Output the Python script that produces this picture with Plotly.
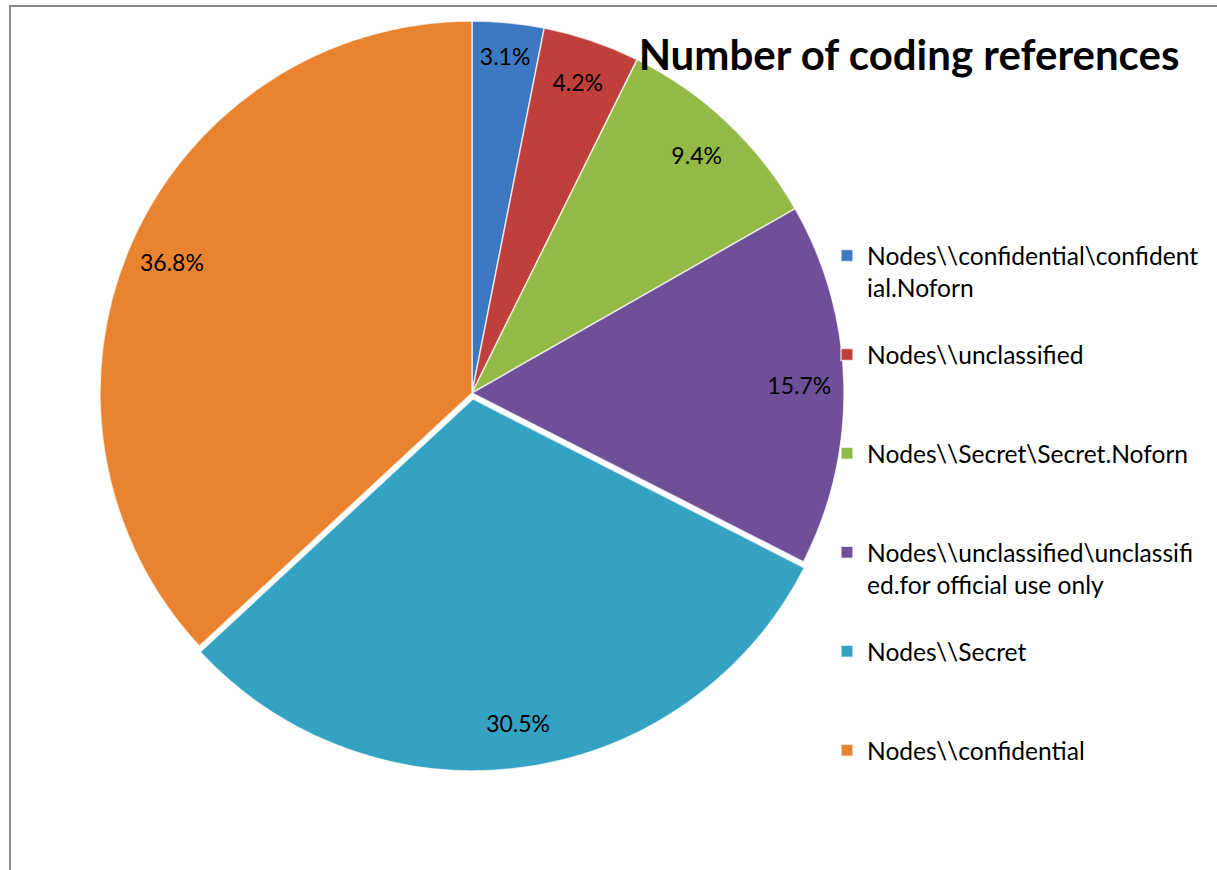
import plotly.graph_objects as go

# ---- data ----
categories = [
    "Nodes\\\\confidential\\confidential.Noforn",
    "Nodes\\\\unclassified",
    "Nodes\\\\Secret\\Secret.Noforn",
    "Nodes\\\\unclassified\\unclassified.for official use only",
    "Nodes\\\\Secret",
    "Nodes\\\\confidential",
]
# legend display text (wrapped like the reference)
legend_labels = [
    "Nodes\\\\confidential\\confident<br>ial.Noforn<br> ",
    "Nodes\\\\unclassified<br> <br> ",
    "Nodes\\\\Secret\\Secret.Noforn<br> <br> ",
    "Nodes\\\\unclassified\\unclassifi<br>ed.for official use only<br> ",
    "Nodes\\\\Secret<br> <br> ",
    "Nodes\\\\confidential<br> <br> ",
]
percent_values = [3.1, 4.2, 9.4, 15.7, 30.5, 36.8]
colors = ["#3D79C3", "#BF3F3B", "#93B947", "#6E4F98", "#34A2C2", "#EA832F"]
pulls = [0, 0, 0, 0, 0.016, 0]
title_text = "Number of coding references"

W, H = 1217, 870
cx, cy, r = 472, 393, 372
half = r * (1 + max(pulls))
dom_x = [(cx - half) / W, (cx + half) / W]
dom_y = [(H - cy - half) / H, (H - cy + half) / H]

fig = go.Figure()
fig.add_trace(go.Pie(
    labels=legend_labels,
    values=percent_values,
    customdata=categories,
    sort=False,
    direction="clockwise",
    rotation=0,
    pull=pulls,
    marker=dict(colors=colors, line=dict(color="rgba(255,255,255,0.7)", width=1.5)),
    textinfo="none",
    hovertemplate="%{customdata}: %{value}%<extra></extra>",
    domain=dict(x=dom_x, y=dom_y),
    showlegend=True,
))
# transparent ring to place percentage labels near the outer edge
fig.add_trace(go.Pie(
    labels=legend_labels,
    values=percent_values,
    sort=False,
    direction="clockwise",
    rotation=0,
    pull=pulls,
    hole=0.76,
    marker=dict(colors=["rgba(0,0,0,0)"] * len(percent_values), line=dict(width=0)),
    texttemplate="%{value}%",
    textposition="inside",
    insidetextorientation="horizontal",
    textfont=dict(family="Lato", size=23, color="#000000"),
    hoverinfo="skip",
    domain=dict(x=dom_x, y=dom_y),
    showlegend=False,
))

fig.update_layout(
    width=W, height=H,
    margin=dict(l=0, r=0, t=0, b=0),
    paper_bgcolor="white",
    plot_bgcolor="white",
    uniformtext=dict(minsize=23, mode="show"),
    title=dict(
        text="<b>" + title_text + "</b>",
        x=909 / W, xanchor="center",
        y=1 - 55 / H, yanchor="middle",
        font=dict(family="Lato", size=42, color="#000000"),
    ),
    legend=dict(
        x=827 / W, xanchor="left",
        y=1 - 233 / H, yanchor="top",
        font=dict(family="Lato", size=24.6, color="#000000"),
        valign="top",
        bgcolor="rgba(0,0,0,0)",
        traceorder="normal",
    ),
    shapes=[
        dict(type="rect", xref="paper", yref="paper",
             x0=10 / W, x1=1.02, y0=-0.02, y1=1 - 6 / H,
             line=dict(color="#878787", width=2), fillcolor="rgba(0,0,0,0)", layer="below"),
    ],
    font=dict(family="Lato"),
)

fig.write_html(
    "out.html",
    config={"displayModeBar": False},
    post_script="document.body.style.margin='0';document.body.style.overflow='hidden';",
)
